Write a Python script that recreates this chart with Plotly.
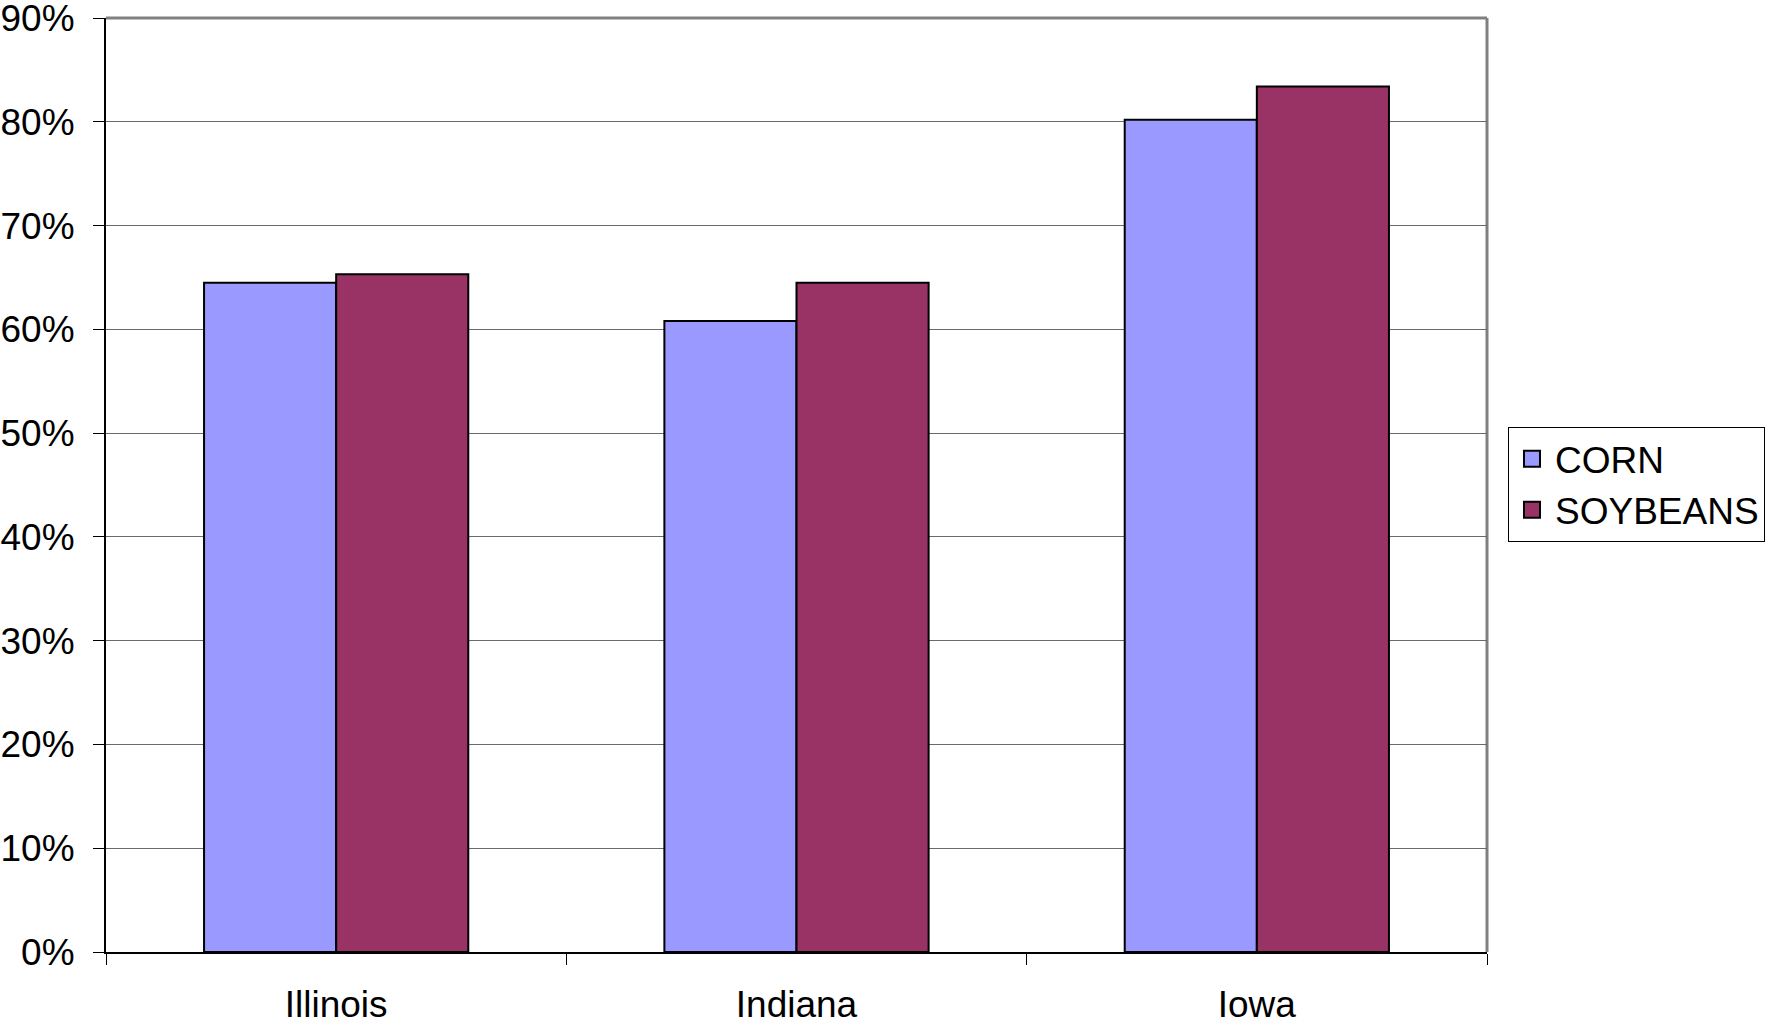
import plotly.graph_objects as go

states = ["Illinois", "Indiana", "Iowa"]
corn = [0.645, 0.608, 0.802]
soybeans = [0.653, 0.645, 0.834]
y_ticks = [0, 0.1, 0.2, 0.3, 0.4, 0.5, 0.6, 0.7, 0.8, 0.9]

FONT = "Liberation Sans, Arial, sans-serif"
CORN_COLOR = "#9999FF"
SOY_COLOR = "#993366"

fig = go.Figure()
fig.add_trace(go.Bar(name="CORN", x=states, y=corn, showlegend=False,
                     marker=dict(color=CORN_COLOR, line=dict(color="black", width=2))))
fig.add_trace(go.Bar(name="SOYBEANS", x=states, y=soybeans, showlegend=False,
                     marker=dict(color=SOY_COLOR, line=dict(color="black", width=2))))

# legend entries drawn as square swatches
for name, color in [("CORN", CORN_COLOR), ("SOYBEANS", SOY_COLOR)]:
    fig.add_trace(go.Scatter(name=name, x=[None], y=[None], mode="markers",
                             marker=dict(symbol="square", size=19, color=color,
                                         line=dict(color="black", width=2))))

# gray frame on top and right of the plot area
fig.add_shape(type="line", xref="paper", yref="paper", x0=0, x1=1, y0=1, y1=1,
              line=dict(color="#808080", width=3), layer="below")
fig.add_shape(type="line", xref="paper", yref="paper", x0=1, x1=1, y0=0, y1=1,
              line=dict(color="#808080", width=3), layer="below")

fig.update_layout(
    width=1767, height=1023,
    margin=dict(l=106, r=280, t=18, b=71, autoexpand=False),
    paper_bgcolor="white", plot_bgcolor="white",
    font=dict(family=FONT, size=37, color="black"),
    barmode="group", bargap=0.426, bargroupgap=0,
    legend=dict(x=1.0152, y=0.562, xanchor="left", yanchor="top",
                bordercolor="black", borderwidth=1, bgcolor="white",
                font=dict(family=FONT, size=37), itemsizing="trace",
                itemwidth=36, tracegroupgap=0),
    xaxis=dict(type="category", tickson="boundaries", ticks="outside", ticklen=11,
               tickcolor="black", showline=True, linecolor="black", linewidth=2,
               showgrid=False, tickfont=dict(size=37), automargin=False,
               ticklabelstandoff=19),
    yaxis=dict(range=[0, 0.9], tickvals=y_ticks, tickformat=".0%", ticks="outside",
               ticklen=11, tickcolor="black", showline=True, linecolor="black",
               linewidth=2, showgrid=True, gridcolor="#6a6a6a", gridwidth=1,
               zeroline=False, ticklabelstandoff=11, tickfont=dict(size=37),
               automargin=False, ticklabeloverflow="allow"),
    showlegend=True,
)

fig.write_html("out.html")
